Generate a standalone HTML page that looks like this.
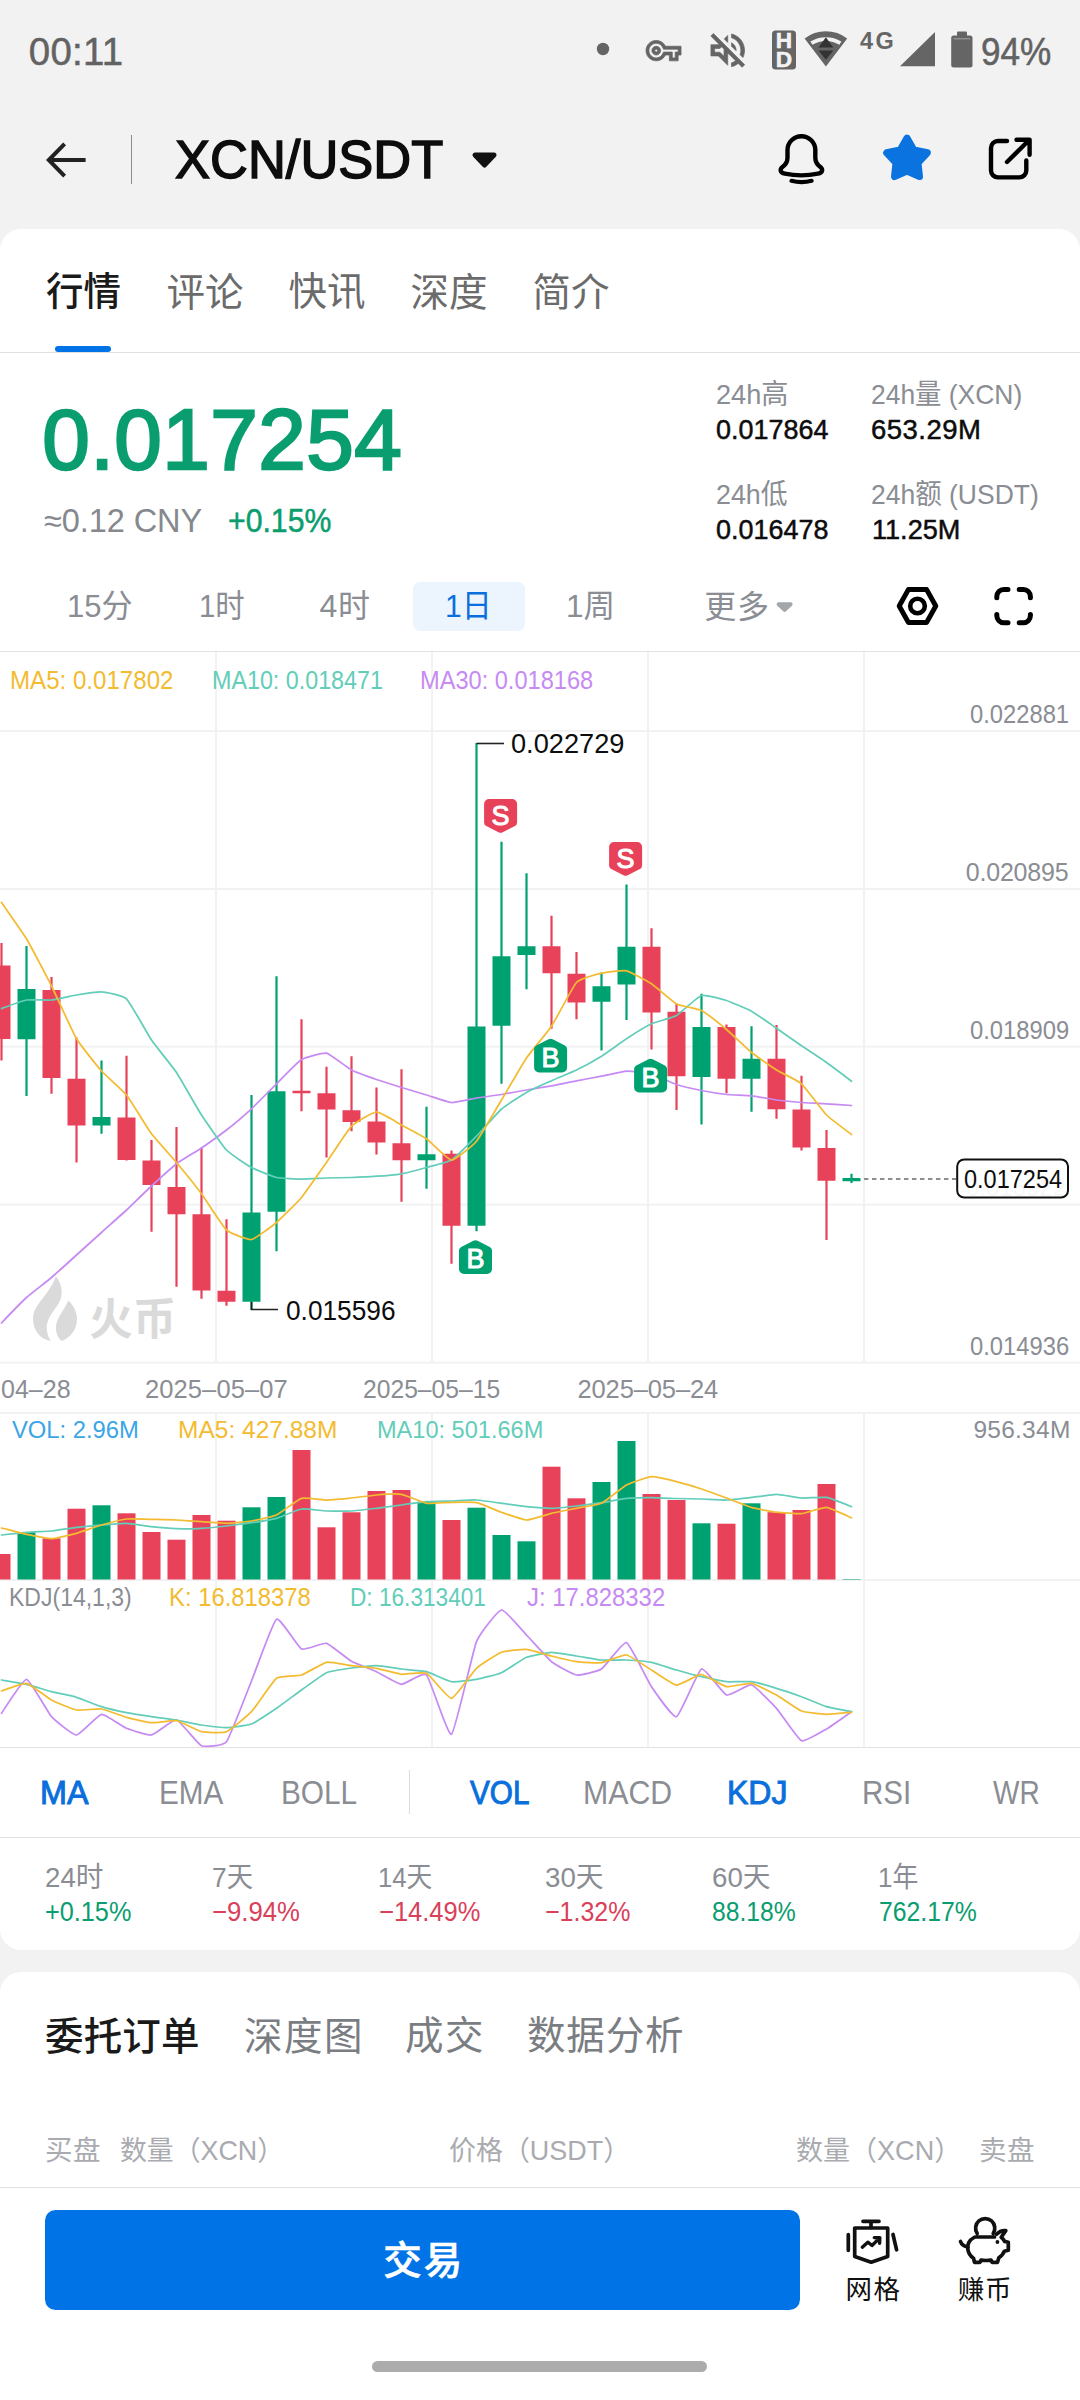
<!DOCTYPE html>
<html lang="zh-CN"><head><meta charset="utf-8"><meta name="viewport" content="width=1080">
<title>XCN/USDT</title>
<style>
*{margin:0;padding:0;box-sizing:border-box}
html,body{width:1080px;height:2400px;overflow:hidden}
body{position:relative;background:#f2f2f2;font-family:"Liberation Sans","Noto Sans CJK SC",sans-serif;}
.abs{position:absolute}
.g{display:block;position:static}
.t{position:absolute;white-space:nowrap;line-height:1;transform-origin:0 50%}
.card1{position:absolute;left:0;top:228.7px;width:1080px;height:1721px;background:#fff;border-radius:21px}
.card2{position:absolute;left:0;top:1971.7px;width:1080px;height:428px;background:#fff;border-radius:21px 21px 0 0}
.hr{position:absolute;left:0;width:1080px;height:1px;background:#e1e1e2}
.mk{font-family:"Liberation Sans",sans-serif;font-size:27px;fill:#fff;stroke:#fff;stroke-width:1px;text-anchor:middle}
</style></head>
<body>
<div class="card1"></div>
<div class="card2"></div>
<svg class="abs" style="left:0;top:0" width="1080" height="2400" viewBox="0 0 1080 2400" fill="none">
<circle cx="603" cy="49" r="6.2" fill="#656565"/>
<path transform="translate(646,33.1) scale(1.46)" fill="#656565" stroke="#656565" stroke-width="0.5" d="M22 19h-6v-4h-2.68c-1.14 2.42-3.6 4-6.32 4-3.86 0-7-3.14-7-7s3.14-7 7-7c2.72 0 5.17 1.58 6.32 4H24v6h-2v4zm-4-2h2v-4h2v-2H11.94l-.23-.67C11.01 8.34 9.11 7 7 7c-2.76 0-5 2.24-5 5s2.24 5 5 5c2.11 0 4.01-1.34 4.71-3.33l.23-.67H18v4zM7 15c-1.65 0-3-1.35-3-3s1.35-3 3-3 3 1.35 3 3-1.35 3-3 3zm0-4c-.55 0-1 .45-1 1s.45 1 1 1 1-.45 1-1-.45-1-1-1z"/>
<path transform="translate(705.3,27.9) scale(1.87)" fill="#656565" stroke="#656565" stroke-width="0.35" d="M4.34 2.93L2.93 4.34 7.29 8.7 7 9H3v6h4l5 5v-6.59l4.18 4.18c-.65.49-1.38.88-2.18 1.11v2.06c1.34-.3 2.57-.92 3.61-1.75l2.05 2.05 1.41-1.41L4.34 2.93zM10 15.17L7.83 13H5v-2h2.83l.88-.88L10 11.41v3.76zM19 12c0 .82-.15 1.61-.41 2.34l1.53 1.53c.56-1.17.88-2.48.88-3.87 0-4.28-2.99-7.86-7-8.77v2.06c2.89.86 5 3.54 5 6.71zm-7-8l-1.88 1.88L12 7.76zm4.5 8c0-1.77-1.02-3.29-2.5-4.03v1.79l2.48 2.48c.01-.08.02-.16.02-.24z"/>
<rect x="772" y="30.5" width="24" height="39" rx="3.5" fill="#656565"/>
<text x="784" y="48.4" font-size="22.6" stroke="#f2f2f2" stroke-width="0.6" font-weight="700" fill="#f2f2f2" text-anchor="middle" font-family="Liberation Sans, sans-serif">H</text>
<text x="784" y="66.5" font-size="22.6" stroke="#f2f2f2" stroke-width="0.6" font-weight="700" fill="#f2f2f2" text-anchor="middle" font-family="Liberation Sans, sans-serif">D</text>
<path d="M825.9,66.4L804.6,38.6A35,35 0 0 1 847.2,38.6Z" fill="#656565"/>
<path d="M811.4,43.2A27.3,27.3 0 0 1 840.4,43.2" stroke="#f2f2f2" stroke-width="3.8" fill="none"/>
<path d="M825.9,37.3l7.4,10.2h-14.8zM825.9,59.8l7.4,-9.4h-14.8z" fill="#333"/>
<path d="M900,66.3H935V32Z" fill="#656565"/>
<rect x="951.2" y="35.5" width="21.3" height="32" rx="2.5" fill="#656565"/><rect x="957" y="31.6" width="10" height="5" rx="1" fill="#656565"/>
<rect x="953.5" y="38.2" width="16.7" height="1.2" fill="#9a9a9a"/>
<path d="M85.6,160H49M64.6,143.8L48.8,160L64.6,176.2" stroke="#222" stroke-width="4" stroke-linecap="butt" stroke-linejoin="miter"/>
<path d="M475,155h19l-9.5,10z" fill="#111" stroke="#111" stroke-width="5" stroke-linejoin="round"/>
<path d="M787.5,157.5V150.1A13.9,13.9 0 0 1 815.3,150.1V157.5C815.3,161.5 816.9,164.3 819.8,166.6C823.6,169.4 822.6,172.8 818,173.7C808,175.7 794.8,175.7 784.8,173.7C780.2,172.8 779.2,169.4 783,166.6C785.9,164.3 787.5,161.5 787.5,157.5Z" stroke="#000" stroke-width="4.4" stroke-linejoin="round"/>
<path d="M791.5,180.8Q801.4,183.4 811.6,180.8" stroke="#000" stroke-width="4.2" stroke-linecap="round"/>
<polygon points="907.0,138.1 913.8,150.0 927.3,152.8 918.0,163.0 919.5,176.6 907.0,171.0 894.5,176.6 896.0,163.0 886.7,152.8 900.2,150.0" fill="#0a73e0" stroke="#0a73e0" stroke-width="7" stroke-linejoin="round"/>
<path d="M1007,141H998A7,7 0 0 0 991,148V170.4A7,7 0 0 0 998,177.4H1019.3A7,7 0 0 0 1026.3,170.4V160.5" stroke="#000" stroke-width="4.4" stroke-linecap="round"/>
<path d="M1007,162L1029.4,139.8M1016.5,139.8H1029.6V154.8" stroke="#000" stroke-width="4.4" stroke-linecap="round" stroke-linejoin="round"/>
<path d="M778.6,604.3h12l-6,5.6z" fill="#a3a6ab" stroke="#a3a6ab" stroke-width="4" stroke-linejoin="round"/>
<path d="M899.2,606L908.35,589.6H926.65L935.8,606L926.65,622.4H908.35Z" stroke="#000" stroke-width="5" stroke-linejoin="round"/>
<circle cx="917.5" cy="606" r="7.3" stroke="#000" stroke-width="4.6"/>
<path d="M996.8,597.7V596.5A7,7 0 0 1 1003.8,589.5H1008.0M1019.2,589.5H1023.4000000000001A7,7 0 0 1 1030.4,596.5V597.7M1030.4,614.5V615.7A7,7 0 0 1 1023.4000000000001,622.7H1019.2M1008.0,622.7H1003.8A7,7 0 0 1 996.8,615.7V614.5" stroke="#000" stroke-width="5" stroke-linecap="round"/>
<path d="M55.8,1276C63.5,1286 63.5,1297 57,1306C50,1315.5 45.5,1322 47,1331C47.8,1336 49.5,1339 51,1341C40,1339.5 33,1330 33,1318.5C33,1304 50,1295 55.8,1276Z" fill="#dadada"/>
<path d="M68.3,1300.5C74,1306 77.2,1312.5 77,1319.5C76.7,1330 70,1338 61.5,1341C57.5,1337.5 55.5,1332 56,1326.5C56.8,1317 64,1311 68.3,1300.5Z" fill="#dadada"/>
<g stroke="#111" stroke-width="3.7" stroke-linecap="round" stroke-linejoin="round">
<path d="M863,2221.3H879M871,2221.3V2227.5"/>
<path d="M854.7,2228H887.7V2256.6L871.2,2262.2L854.7,2256.6Z"/>
<path d="M848.3,2234.5V2250.3M893,2234.5L896.6,2249.8"/>
<path d="M862.3,2247.2L867.8,2242.2L872,2245.5L879,2238.6M874.3,2237.6L879.8,2237.8L879.6,2243.2" stroke-width="3.4"/>
</g>
<g stroke="#111" stroke-width="3.7" stroke-linecap="round" stroke-linejoin="round">
<path d="M977.2,2233.5A9.6,9.6 0 1 1 993.2,2233.5M975.5,2237H994.5"/>
<path d="M974,2237.5C969.5,2240 967.3,2244.5 967.8,2249C968.3,2253.5 971,2256.5 973.5,2258.2L974.5,2262.3H980L981,2260C984,2260.6 988,2260.6 991,2260L992,2262.3H997.5L998.8,2257.8C1001.5,2256 1003.5,2253.5 1004.3,2251.2L1008.3,2250.2V2242.2L1004.6,2241.4C1003.8,2239.8 1002.6,2238.3 1001.2,2237.2L1005.8,2230.6C1002,2230.2 999,2231.6 996.5,2234.2"/>
<path d="M968,2247C964.5,2246.5 961.5,2244.5 960.5,2241.5"/>
</g>
<circle cx="997.4" cy="2242" r="1.9" fill="#111"/>
</svg>
<div class="abs" style="left:55px;top:346px;width:56px;height:6px;border-radius:3px;background:#0073e6"></div>
<div class="hr" style="top:352px"></div>
<div class="abs" style="left:413px;top:582px;width:112px;height:49px;border-radius:7px;background:#ecf4fd"></div>
<svg class="abs" style="left:0;top:651px" width="1080" height="1097" viewBox="0 651 1080 1097">
<rect x="0" y="730" width="1080" height="2" fill="#f2f2f3"/>
<rect x="0" y="888" width="1080" height="2" fill="#f2f2f3"/>
<rect x="0" y="1045.6" width="1080" height="2" fill="#f2f2f3"/>
<rect x="0" y="1203.6" width="1080" height="2" fill="#f2f2f3"/>
<rect x="0" y="1361.6" width="1080" height="2" fill="#f2f2f3"/>
<rect x="0" y="1412" width="1080" height="2" fill="#f2f2f3"/>
<rect x="0" y="1579" width="1080" height="2" fill="#f2f2f3"/>
<rect x="215" y="651" width="2" height="711" fill="#f2f2f3"/>
<rect x="215" y="1413" width="2" height="334" fill="#f2f2f3"/>
<rect x="431" y="651" width="2" height="711" fill="#f2f2f3"/>
<rect x="431" y="1413" width="2" height="334" fill="#f2f2f3"/>
<rect x="647" y="651" width="2" height="711" fill="#f2f2f3"/>
<rect x="647" y="1413" width="2" height="334" fill="#f2f2f3"/>
<rect x="863" y="651" width="2" height="711" fill="#f2f2f3"/>
<rect x="863" y="1413" width="2" height="334" fill="#f2f2f3"/>
<rect x="0" y="651" width="1080" height="1" fill="#e2e2e3"/>
<rect x="0" y="1747" width="1080" height="1" fill="#e2e2e3"/>
<rect x="0.4" y="943" width="2.2" height="117.50" fill="#e8425a"/>
<rect x="-7.5" y="965.5" width="18" height="73.50" fill="#e8425a"/>
<rect x="25.4" y="946" width="2.2" height="150.00" fill="#00a171"/>
<rect x="17.5" y="989" width="18" height="50.25" fill="#00a171"/>
<rect x="50.4" y="977" width="2.2" height="116.75" fill="#e8425a"/>
<rect x="42.5" y="990" width="18" height="88.00" fill="#e8425a"/>
<rect x="75.4" y="1037.5" width="2.2" height="125.00" fill="#e8425a"/>
<rect x="67.5" y="1078.75" width="18" height="46.75" fill="#e8425a"/>
<rect x="100.4" y="1060.5" width="2.2" height="73.25" fill="#00a171"/>
<rect x="92.5" y="1117" width="18" height="8.50" fill="#00a171"/>
<rect x="125.4" y="1055.75" width="2.2" height="104.75" fill="#e8425a"/>
<rect x="117.5" y="1117.5" width="18" height="42.50" fill="#e8425a"/>
<rect x="150.4" y="1140" width="2.2" height="91.75" fill="#e8425a"/>
<rect x="142.5" y="1160.5" width="18" height="24.50" fill="#e8425a"/>
<rect x="175.4" y="1127" width="2.2" height="159.75" fill="#e8425a"/>
<rect x="167.5" y="1187" width="18" height="27.25" fill="#e8425a"/>
<rect x="200.4" y="1147.5" width="2.2" height="151.25" fill="#e8425a"/>
<rect x="192.5" y="1214.25" width="18" height="76.25" fill="#e8425a"/>
<rect x="225.4" y="1219.25" width="2.2" height="86.50" fill="#e8425a"/>
<rect x="217.5" y="1290.75" width="18" height="11.00" fill="#e8425a"/>
<rect x="250.4" y="1095" width="2.2" height="215.00" fill="#00a171"/>
<rect x="242.5" y="1212.5" width="18" height="89.25" fill="#00a171"/>
<rect x="275.4" y="976.25" width="2.2" height="275.00" fill="#00a171"/>
<rect x="267.5" y="1091.25" width="18" height="120.50" fill="#00a171"/>
<rect x="300.4" y="1019.25" width="2.2" height="92.00" fill="#e8425a"/>
<rect x="292.5" y="1090.75" width="18" height="2.50" fill="#e8425a"/>
<rect x="325.4" y="1066.75" width="2.2" height="90.75" fill="#e8425a"/>
<rect x="317.5" y="1093.25" width="18" height="16.25" fill="#e8425a"/>
<rect x="350.4" y="1056.25" width="2.2" height="75.00" fill="#e8425a"/>
<rect x="342.5" y="1110.25" width="18" height="11.75" fill="#e8425a"/>
<rect x="375.4" y="1087.5" width="2.2" height="67.00" fill="#e8425a"/>
<rect x="367.5" y="1121.5" width="18" height="21.00" fill="#e8425a"/>
<rect x="400.4" y="1069.25" width="2.2" height="132.50" fill="#e8425a"/>
<rect x="392.5" y="1143.25" width="18" height="17.00" fill="#e8425a"/>
<rect x="425.4" y="1106.75" width="2.2" height="82.00" fill="#00a171"/>
<rect x="417.5" y="1154.25" width="18" height="6.00" fill="#00a171"/>
<rect x="450.4" y="1150.5" width="2.2" height="113.25" fill="#e8425a"/>
<rect x="442.5" y="1153.75" width="18" height="72.00" fill="#e8425a"/>
<rect x="475.4" y="743" width="2.2" height="488.25" fill="#00a171"/>
<rect x="467.5" y="1026.5" width="18" height="199.25" fill="#00a171"/>
<rect x="500.4" y="841.75" width="2.2" height="242.00" fill="#00a171"/>
<rect x="492.5" y="956.25" width="18" height="69.50" fill="#00a171"/>
<rect x="525.4" y="873.25" width="2.2" height="116.00" fill="#00a171"/>
<rect x="517.5" y="946.25" width="18" height="8.75" fill="#00a171"/>
<rect x="550.4" y="915.75" width="2.2" height="113.00" fill="#e8425a"/>
<rect x="542.5" y="946.25" width="18" height="27.00" fill="#e8425a"/>
<rect x="575.4" y="952" width="2.2" height="67.25" fill="#e8425a"/>
<rect x="567.5" y="973.75" width="18" height="28.75" fill="#e8425a"/>
<rect x="600.4" y="972.5" width="2.2" height="78.00" fill="#00a171"/>
<rect x="592.5" y="986.25" width="18" height="15.50" fill="#00a171"/>
<rect x="625.4" y="884.5" width="2.2" height="135.50" fill="#00a171"/>
<rect x="617.5" y="946.75" width="18" height="37.75" fill="#00a171"/>
<rect x="650.4" y="928.25" width="2.2" height="121.25" fill="#e8425a"/>
<rect x="642.5" y="946.75" width="18" height="65.75" fill="#e8425a"/>
<rect x="675.4" y="1003.75" width="2.2" height="106.25" fill="#e8425a"/>
<rect x="667.5" y="1011.75" width="18" height="64.50" fill="#e8425a"/>
<rect x="700.4" y="993.75" width="2.2" height="130.75" fill="#00a171"/>
<rect x="692.5" y="1027" width="18" height="50.00" fill="#00a171"/>
<rect x="725.4" y="1024.5" width="2.2" height="68.75" fill="#e8425a"/>
<rect x="717.5" y="1027" width="18" height="51.75" fill="#e8425a"/>
<rect x="750.4" y="1026.25" width="2.2" height="85.50" fill="#00a171"/>
<rect x="742.5" y="1058.75" width="18" height="20.00" fill="#00a171"/>
<rect x="775.4" y="1025" width="2.2" height="93.75" fill="#e8425a"/>
<rect x="767.5" y="1058.75" width="18" height="50.50" fill="#e8425a"/>
<rect x="800.4" y="1075.75" width="2.2" height="74.75" fill="#e8425a"/>
<rect x="792.5" y="1109.5" width="18" height="38.00" fill="#e8425a"/>
<rect x="825.4" y="1130" width="2.2" height="110.00" fill="#e8425a"/>
<rect x="817.5" y="1148" width="18" height="32.75" fill="#e8425a"/>
<rect x="850.4" y="1173.75" width="2.2" height="9.25" fill="#00a171"/>
<rect x="842.5" y="1178" width="18" height="3.25" fill="#00a171"/>
<rect x="-7.5" y="1554" width="18" height="25.50" fill="#e8425a"/>
<rect x="17.5" y="1532.3" width="18" height="47.20" fill="#00a171"/>
<rect x="42.5" y="1538.3" width="18" height="41.20" fill="#e8425a"/>
<rect x="67.5" y="1508.7" width="18" height="70.80" fill="#e8425a"/>
<rect x="92.5" y="1505.3" width="18" height="74.20" fill="#00a171"/>
<rect x="117.5" y="1513.3" width="18" height="66.20" fill="#e8425a"/>
<rect x="142.5" y="1532" width="18" height="47.50" fill="#e8425a"/>
<rect x="167.5" y="1539.7" width="18" height="39.80" fill="#e8425a"/>
<rect x="192.5" y="1515" width="18" height="64.50" fill="#e8425a"/>
<rect x="217.5" y="1520.7" width="18" height="58.80" fill="#e8425a"/>
<rect x="242.5" y="1507.3" width="18" height="72.20" fill="#00a171"/>
<rect x="267.5" y="1497" width="18" height="82.50" fill="#00a171"/>
<rect x="292.5" y="1450" width="18" height="129.50" fill="#e8425a"/>
<rect x="317.5" y="1527.3" width="18" height="52.20" fill="#e8425a"/>
<rect x="342.5" y="1512.3" width="18" height="67.20" fill="#e8425a"/>
<rect x="367.5" y="1491" width="18" height="88.50" fill="#e8425a"/>
<rect x="392.5" y="1490" width="18" height="89.50" fill="#e8425a"/>
<rect x="417.5" y="1501.7" width="18" height="77.80" fill="#00a171"/>
<rect x="442.5" y="1520" width="18" height="59.50" fill="#e8425a"/>
<rect x="467.5" y="1507.7" width="18" height="71.80" fill="#00a171"/>
<rect x="492.5" y="1535" width="18" height="44.50" fill="#00a171"/>
<rect x="517.5" y="1541.3" width="18" height="38.20" fill="#00a171"/>
<rect x="542.5" y="1466.7" width="18" height="112.80" fill="#e8425a"/>
<rect x="567.5" y="1498.3" width="18" height="81.20" fill="#e8425a"/>
<rect x="592.5" y="1482" width="18" height="97.50" fill="#00a171"/>
<rect x="617.5" y="1441" width="18" height="138.50" fill="#00a171"/>
<rect x="642.5" y="1494" width="18" height="85.50" fill="#e8425a"/>
<rect x="667.5" y="1500" width="18" height="79.50" fill="#e8425a"/>
<rect x="692.5" y="1523.3" width="18" height="56.20" fill="#00a171"/>
<rect x="717.5" y="1523.7" width="18" height="55.80" fill="#e8425a"/>
<rect x="742.5" y="1503.3" width="18" height="76.20" fill="#00a171"/>
<rect x="767.5" y="1512.2" width="18" height="67.30" fill="#e8425a"/>
<rect x="792.5" y="1510" width="18" height="69.50" fill="#e8425a"/>
<rect x="817.5" y="1484" width="18" height="95.50" fill="#e8425a"/>
<rect x="842.5" y="1579" width="18" height="0.50" fill="#00a171"/>
<path d="M1.5,1323.0C3.2,1321.2 23.0,1300.7 26.5,1297.5C30.0,1294.3 48.0,1280.5 51.5,1277.5C55.0,1274.5 73.0,1258.2 76.5,1255.0C80.0,1251.8 98.0,1235.7 101.5,1232.5C105.0,1229.3 123.0,1213.3 126.5,1210.0C130.0,1206.7 148.0,1189.2 151.5,1186.0C155.0,1182.8 173.0,1166.4 176.5,1163.8C180.0,1161.1 198.0,1150.4 201.5,1148.0C205.0,1145.6 223.0,1132.7 226.5,1130.0C230.0,1127.3 248.0,1112.0 251.5,1108.8C255.0,1105.5 273.0,1087.2 276.5,1083.8C280.0,1080.3 298.0,1061.6 301.5,1059.5C305.0,1057.4 323.0,1052.5 326.5,1053.2C330.0,1054.0 348.0,1068.2 351.5,1070.0C355.0,1071.8 373.0,1078.3 376.5,1079.5C380.0,1080.7 398.0,1086.4 401.5,1087.5C405.0,1088.6 423.0,1094.0 426.5,1095.0C430.0,1096.0 448.0,1102.3 451.5,1102.5C455.0,1102.7 473.0,1098.6 476.5,1098.0C480.0,1097.4 498.0,1095.1 501.5,1094.5C505.0,1093.9 523.0,1090.6 526.5,1090.0C530.0,1089.4 548.0,1086.4 551.5,1085.8C555.0,1085.1 573.0,1081.4 576.5,1080.8C580.0,1080.1 598.0,1076.9 601.5,1076.2C605.0,1075.6 623.0,1071.4 626.5,1071.2C630.0,1071.1 648.0,1073.1 651.5,1074.0C655.0,1074.9 673.0,1083.3 676.5,1084.5C680.0,1085.7 698.0,1089.8 701.5,1090.5C705.0,1091.2 723.0,1094.1 726.5,1094.5C730.0,1094.9 748.0,1095.4 751.5,1095.8C755.0,1096.1 773.0,1099.5 776.5,1100.0C780.0,1100.5 798.0,1102.2 801.5,1102.5C805.0,1102.8 823.0,1103.5 826.5,1103.8C830.0,1104.0 849.8,1105.4 851.5,1105.5" fill="none" stroke="#c68af2" stroke-width="1.75" stroke-linejoin="round" stroke-linecap="round"/>
<path d="M1.5,1008.5C3.2,1007.9 23.0,1000.6 26.5,1000.0C30.0,999.4 48.0,1000.4 51.5,1000.0C55.0,999.6 73.0,995.6 76.5,995.0C80.0,994.4 98.0,991.5 101.5,991.8C105.0,992.0 123.0,995.4 126.5,998.8C130.0,1002.1 148.0,1034.8 151.5,1040.0C155.0,1045.2 173.0,1067.2 176.5,1072.5C180.0,1077.8 198.0,1109.6 201.5,1115.0C205.0,1120.4 223.0,1146.3 226.5,1150.0C230.0,1153.7 248.0,1165.6 251.5,1167.5C255.0,1169.4 273.0,1176.7 276.5,1177.5C280.0,1178.3 298.0,1179.2 301.5,1179.2C305.0,1179.3 323.0,1178.1 326.5,1178.0C330.0,1177.9 348.0,1177.6 351.5,1177.5C355.0,1177.4 373.0,1176.5 376.5,1176.2C380.0,1176.0 398.0,1174.4 401.5,1173.8C405.0,1173.1 423.0,1168.5 426.5,1167.5C430.0,1166.5 448.0,1162.2 451.5,1160.0C455.0,1157.8 473.0,1139.8 476.5,1136.2C480.0,1132.7 498.0,1112.1 501.5,1109.0C505.0,1105.9 523.0,1094.5 526.5,1092.5C530.0,1090.5 548.0,1082.3 551.5,1080.8C555.0,1079.2 573.0,1071.7 576.5,1070.0C580.0,1068.3 598.0,1058.4 601.5,1056.2C605.0,1054.1 623.0,1041.0 626.5,1038.8C630.0,1036.5 648.0,1025.4 651.5,1023.8C655.0,1022.1 673.0,1017.5 676.5,1015.5C680.0,1013.5 698.0,996.5 701.5,995.5C705.0,994.5 723.0,999.4 726.5,1000.5C730.0,1001.6 748.0,1009.3 751.5,1011.2C755.0,1013.2 773.0,1025.8 776.5,1028.2C780.0,1030.7 798.0,1043.4 801.5,1045.8C805.0,1048.1 823.0,1060.0 826.5,1062.5C830.0,1065.0 849.8,1079.9 851.5,1081.2" fill="none" stroke="#62cdb9" stroke-width="1.75" stroke-linejoin="round" stroke-linecap="round"/>
<path d="M1.5,902.5C3.2,905.0 23.0,932.9 26.5,938.8C30.0,944.6 48.0,979.0 51.5,986.0C55.0,993.0 73.0,1032.8 76.5,1038.8C80.0,1044.7 98.0,1067.1 101.5,1071.0C105.0,1074.9 123.0,1090.6 126.5,1095.0C130.0,1099.4 148.0,1129.0 151.5,1133.8C155.0,1138.5 173.0,1158.3 176.5,1162.5C180.0,1166.7 198.0,1189.0 201.5,1193.8C205.0,1198.5 223.0,1226.8 226.5,1230.0C230.0,1233.2 248.0,1240.0 251.5,1239.5C255.0,1239.0 273.0,1225.4 276.5,1222.5C280.0,1219.6 298.0,1201.7 301.5,1197.5C305.0,1193.3 323.0,1167.5 326.5,1162.5C330.0,1157.5 348.0,1129.8 351.5,1126.2C355.0,1122.7 373.0,1112.1 376.5,1112.0C380.0,1111.9 398.0,1123.1 401.5,1125.0C405.0,1126.9 423.0,1136.3 426.5,1138.8C430.0,1141.2 448.0,1159.8 451.5,1160.0C455.0,1160.2 473.0,1145.5 476.5,1141.2C480.0,1137.0 498.0,1105.8 501.5,1100.0C505.0,1094.2 523.0,1063.2 526.5,1058.0C530.0,1052.8 548.0,1031.5 551.5,1026.2C555.0,1021.0 573.0,986.2 576.5,982.5C580.0,978.8 598.0,974.1 601.5,973.2C605.0,972.4 623.0,970.0 626.5,970.8C630.0,971.5 648.0,981.4 651.5,983.8C655.0,986.1 673.0,1002.1 676.5,1004.0C680.0,1005.9 698.0,1008.7 701.5,1010.5C705.0,1012.3 723.0,1026.6 726.5,1029.5C730.0,1032.4 748.0,1049.7 751.5,1052.5C755.0,1055.3 773.0,1067.8 776.5,1070.0C780.0,1072.2 798.0,1080.6 801.5,1083.8C805.0,1086.9 823.0,1111.4 826.5,1115.0C830.0,1118.6 849.8,1133.1 851.5,1134.5" fill="none" stroke="#f3bb30" stroke-width="1.75" stroke-linejoin="round" stroke-linecap="round"/>
<path d="M1.5,1535.0C3.2,1534.8 23.0,1532.6 26.5,1532.3C30.0,1532.0 48.0,1531.3 51.5,1531.0C55.0,1530.7 73.0,1527.7 76.5,1527.3C80.0,1526.9 98.0,1525.3 101.5,1525.0C105.0,1524.7 123.0,1523.2 126.5,1523.3C130.0,1523.4 148.0,1526.3 151.5,1526.7C155.0,1527.1 173.0,1528.6 176.5,1528.7C180.0,1528.8 198.0,1528.5 201.5,1528.3C205.0,1528.1 223.0,1526.4 226.5,1526.0C230.0,1525.6 248.0,1523.2 251.5,1522.7C255.0,1522.2 273.0,1519.3 276.5,1518.3C280.0,1517.3 298.0,1509.5 301.5,1509.0C305.0,1508.5 323.0,1510.9 326.5,1511.0C330.0,1511.1 348.0,1511.2 351.5,1511.0C355.0,1510.8 373.0,1508.7 376.5,1508.3C380.0,1507.9 398.0,1505.5 401.5,1505.0C405.0,1504.5 423.0,1502.0 426.5,1501.7C430.0,1501.4 448.0,1501.1 451.5,1501.0C455.0,1500.9 473.0,1499.8 476.5,1500.0C480.0,1500.2 498.0,1502.8 501.5,1503.3C505.0,1503.8 523.0,1506.4 526.5,1506.7C530.0,1507.0 548.0,1508.3 551.5,1508.3C555.0,1508.3 573.0,1506.4 576.5,1506.0C580.0,1505.6 598.0,1503.2 601.5,1502.7C605.0,1502.2 623.0,1498.6 626.5,1498.3C630.0,1498.0 648.0,1497.7 651.5,1497.7C655.0,1497.7 673.0,1498.4 676.5,1498.5C680.0,1498.6 698.0,1498.9 701.5,1499.0C705.0,1499.1 723.0,1500.1 726.5,1500.0C730.0,1499.9 748.0,1497.8 751.5,1497.4C755.0,1497.0 773.0,1494.4 776.5,1494.4C780.0,1494.4 798.0,1497.8 801.5,1498.0C805.0,1498.2 823.0,1496.8 826.5,1497.4C830.0,1498.0 849.8,1506.0 851.5,1506.7" fill="none" stroke="#62cdb9" stroke-width="1.75" stroke-linejoin="round" stroke-linecap="round"/>
<path d="M1.5,1528.0C3.2,1528.4 23.0,1533.6 26.5,1534.3C30.0,1535.0 48.0,1538.8 51.5,1538.7C55.0,1538.6 73.0,1534.3 76.5,1533.3C80.0,1532.3 98.0,1526.0 101.5,1525.0C105.0,1524.0 123.0,1519.4 126.5,1519.0C130.0,1518.6 148.0,1519.2 151.5,1519.3C155.0,1519.4 173.0,1519.8 176.5,1520.0C180.0,1520.2 198.0,1521.5 201.5,1521.7C205.0,1521.9 223.0,1523.3 226.5,1523.3C230.0,1523.3 248.0,1521.6 251.5,1521.0C255.0,1520.4 273.0,1516.6 276.5,1515.0C280.0,1513.4 298.0,1499.3 301.5,1498.3C305.0,1497.2 323.0,1500.0 326.5,1500.0C330.0,1500.0 348.0,1498.3 351.5,1498.0C355.0,1497.7 373.0,1495.3 376.5,1495.0C380.0,1494.7 398.0,1493.7 401.5,1494.3C405.0,1494.9 423.0,1502.7 426.5,1503.3C430.0,1503.9 448.0,1502.3 451.5,1502.3C455.0,1502.3 473.0,1502.0 476.5,1502.7C480.0,1503.4 498.0,1511.1 501.5,1512.3C505.0,1513.5 523.0,1519.9 526.5,1520.0C530.0,1520.1 548.0,1514.1 551.5,1513.3C555.0,1512.5 573.0,1509.0 576.5,1508.3C580.0,1507.6 598.0,1504.9 601.5,1503.3C605.0,1501.7 623.0,1486.9 626.5,1485.0C630.0,1483.1 648.0,1476.9 651.5,1476.7C655.0,1476.5 673.0,1480.8 676.5,1481.7C680.0,1482.6 698.0,1487.9 701.5,1489.0C705.0,1490.1 723.0,1496.7 726.5,1498.0C730.0,1499.3 748.0,1506.4 751.5,1507.4C755.0,1508.4 773.0,1511.8 776.5,1512.2C780.0,1512.6 798.0,1514.0 801.5,1513.7C805.0,1513.4 823.0,1507.1 826.5,1507.4C830.0,1507.7 849.8,1517.1 851.5,1517.8" fill="none" stroke="#f3bb30" stroke-width="1.75" stroke-linejoin="round" stroke-linecap="round"/>
<path d="M1.5,1713.3C3.2,1710.9 23.0,1679.1 26.5,1679.3C30.0,1679.5 48.0,1712.8 51.5,1716.7C55.0,1720.6 73.0,1735.2 76.5,1735.0C80.0,1734.8 98.0,1714.8 101.5,1714.3C105.0,1713.8 123.0,1726.9 126.5,1728.3C130.0,1729.7 148.0,1735.6 151.5,1735.0C155.0,1734.4 173.0,1719.3 176.5,1720.0C180.0,1720.7 198.0,1744.2 201.5,1745.7C205.0,1747.2 223.0,1746.2 226.5,1741.7C230.0,1737.2 248.0,1689.6 251.5,1681.0C255.0,1672.4 273.0,1621.5 276.5,1619.3C280.0,1617.1 298.0,1647.3 301.5,1649.0C305.0,1650.7 323.0,1642.4 326.5,1643.3C330.0,1644.2 348.0,1659.3 351.5,1661.3C355.0,1663.3 373.0,1670.1 376.5,1671.7C380.0,1673.3 398.0,1684.1 401.5,1684.3C405.0,1684.5 423.0,1671.5 426.5,1675.0C430.0,1678.5 448.0,1736.6 451.5,1734.3C455.0,1732.0 473.0,1650.4 476.5,1641.7C480.0,1633.0 498.0,1610.5 501.5,1610.0C505.0,1609.5 523.0,1631.4 526.5,1635.0C530.0,1638.6 548.0,1658.9 551.5,1661.7C555.0,1664.5 573.0,1674.5 576.5,1675.0C580.0,1675.5 598.0,1671.3 601.5,1669.0C605.0,1666.7 623.0,1641.5 626.5,1642.7C630.0,1643.9 648.0,1681.5 651.5,1686.7C655.0,1691.9 673.0,1717.9 676.5,1716.7C680.0,1715.5 698.0,1670.5 701.5,1669.0C705.0,1667.5 723.0,1693.9 726.5,1695.0C730.0,1696.1 748.0,1684.1 751.5,1685.0C755.0,1685.9 773.0,1704.4 776.5,1708.3C780.0,1712.2 798.0,1739.3 801.5,1740.7C805.0,1742.1 823.0,1731.0 826.5,1729.0C830.0,1727.0 849.8,1712.9 851.5,1711.7" fill="none" stroke="#c68af2" stroke-width="1.75" stroke-linejoin="round" stroke-linecap="round"/>
<path d="M1.5,1680.0C3.2,1680.3 23.0,1683.5 26.5,1684.3C30.0,1685.1 48.0,1690.8 51.5,1691.7C55.0,1692.6 73.0,1696.2 76.5,1697.3C80.0,1698.3 98.0,1705.6 101.5,1706.7C105.0,1707.8 123.0,1712.0 126.5,1712.7C130.0,1713.4 148.0,1716.2 151.5,1716.7C155.0,1717.2 173.0,1719.4 176.5,1720.0C180.0,1720.6 198.0,1724.5 201.5,1725.0C205.0,1725.5 223.0,1727.8 226.5,1727.7C230.0,1727.6 248.0,1725.4 251.5,1724.0C255.0,1722.6 273.0,1710.7 276.5,1708.3C280.0,1705.9 298.0,1692.5 301.5,1690.0C305.0,1687.5 323.0,1674.2 326.5,1672.7C330.0,1671.2 348.0,1668.5 351.5,1668.0C355.0,1667.5 373.0,1665.6 376.5,1665.7C380.0,1665.8 398.0,1668.6 401.5,1669.0C405.0,1669.4 423.0,1670.8 426.5,1671.7C430.0,1672.6 448.0,1681.2 451.5,1681.7C455.0,1682.2 473.0,1679.9 476.5,1679.3C480.0,1678.7 498.0,1674.2 501.5,1672.7C505.0,1671.2 523.0,1658.7 526.5,1657.3C530.0,1655.9 548.0,1652.4 551.5,1652.3C555.0,1652.2 573.0,1655.5 576.5,1656.0C580.0,1656.5 598.0,1659.7 601.5,1660.0C605.0,1660.3 623.0,1659.8 626.5,1660.0C630.0,1660.2 648.0,1661.6 651.5,1662.3C655.0,1663.0 673.0,1669.0 676.5,1670.0C680.0,1671.0 698.0,1675.9 701.5,1676.7C705.0,1677.5 723.0,1681.4 726.5,1681.7C730.0,1682.0 748.0,1681.2 751.5,1681.7C755.0,1682.2 773.0,1687.2 776.5,1688.3C780.0,1689.3 798.0,1695.4 801.5,1696.7C805.0,1698.0 823.0,1705.7 826.5,1706.7C830.0,1707.8 849.8,1711.4 851.5,1711.7" fill="none" stroke="#62cdb9" stroke-width="1.75" stroke-linejoin="round" stroke-linecap="round"/>
<path d="M1.5,1691.0C3.2,1690.5 23.0,1682.7 26.5,1683.3C30.0,1683.9 48.0,1698.1 51.5,1700.0C55.0,1701.9 73.0,1709.4 76.5,1710.0C80.0,1710.6 98.0,1708.5 101.5,1709.0C105.0,1709.5 123.0,1716.3 126.5,1717.3C130.0,1718.3 148.0,1722.5 151.5,1722.7C155.0,1722.9 173.0,1720.1 176.5,1720.7C180.0,1721.3 198.0,1730.9 201.5,1731.7C205.0,1732.5 223.0,1733.1 226.5,1731.7C230.0,1730.3 248.0,1715.4 251.5,1711.7C255.0,1708.0 273.0,1680.9 276.5,1678.3C280.0,1675.7 298.0,1676.1 301.5,1675.0C305.0,1673.9 323.0,1663.0 326.5,1662.3C330.0,1661.6 348.0,1665.3 351.5,1665.7C355.0,1666.1 373.0,1667.7 376.5,1668.3C380.0,1668.9 398.0,1674.0 401.5,1674.3C405.0,1674.6 423.0,1671.6 426.5,1673.3C430.0,1675.0 448.0,1698.6 451.5,1698.3C455.0,1698.0 473.0,1671.5 476.5,1668.3C480.0,1665.1 498.0,1653.6 501.5,1652.3C505.0,1651.0 523.0,1649.0 526.5,1649.3C530.0,1649.6 548.0,1655.1 551.5,1656.0C555.0,1656.9 573.0,1661.2 576.5,1661.7C580.0,1662.2 598.0,1663.2 601.5,1662.7C605.0,1662.2 623.0,1654.5 626.5,1655.0C630.0,1655.5 648.0,1667.9 651.5,1670.0C655.0,1672.1 673.0,1684.7 676.5,1685.0C680.0,1685.3 698.0,1674.4 701.5,1674.5C705.0,1674.6 723.0,1686.1 726.5,1686.7C730.0,1687.3 748.0,1682.7 751.5,1683.3C755.0,1683.9 773.0,1693.1 776.5,1695.0C780.0,1696.9 798.0,1709.6 801.5,1711.0C805.0,1712.4 823.0,1714.2 826.5,1714.3C830.0,1714.4 849.8,1712.4 851.5,1712.3" fill="none" stroke="#f3bb30" stroke-width="1.75" stroke-linejoin="round" stroke-linecap="round"/>
<path d="M476.5,743.5H504" stroke="#222" stroke-width="1.6" fill="none"/>
<path d="M251.5,1302V1309.5H278" stroke="#222" stroke-width="1.6" fill="none"/>
<path d="M864,1179H957" stroke="#8e8e8e" stroke-width="2" stroke-dasharray="4.4 3.6" fill="none"/>
<path d="M489.1,799h23a5,5 0 0 1 5,5v18.5a4,4 0 0 1 -2.2,3.5l-12.2,6.3a4.5,4.5 0 0 1 -4.2,0l-12.2,-6.3a4,4 0 0 1 -2.2,-3.5v-18.5a5,5 0 0 1 5,-5z" fill="#e8425a"/><text x="500.6" y="824.8" class="mk">S</text>
<path d="M614.1,842h23a5,5 0 0 1 5,5v18.5a4,4 0 0 1 -2.2,3.5l-12.2,6.3a4.5,4.5 0 0 1 -4.2,0l-12.2,-6.3a4,4 0 0 1 -2.2,-3.5v-18.5a5,5 0 0 1 5,-5z" fill="#e8425a"/><text x="625.6" y="867.8" class="mk">S</text>
<path d="M464.0,1274h23a5,5 0 0 0 5,-5v-18.5a4,4 0 0 0 -2.2,-3.5l-12.2,-6.3a4.5,4.5 0 0 0 -4.2,0l-12.2,6.3a4,4 0 0 0 -2.2,3.5v18.5a5,5 0 0 0 5,5z" fill="#00a171"/><text x="475.5" y="1268.1" class="mk">B</text>
<path d="M539.1,1072.5h23a5,5 0 0 0 5,-5v-18.5a4,4 0 0 0 -2.2,-3.5l-12.2,-6.3a4.5,4.5 0 0 0 -4.2,0l-12.2,6.3a4,4 0 0 0 -2.2,3.5v18.5a5,5 0 0 0 5,5z" fill="#00a171"/><text x="550.6" y="1066.6" class="mk">B</text>
<path d="M639.1,1092.5h23a5,5 0 0 0 5,-5v-18.5a4,4 0 0 0 -2.2,-3.5l-12.2,-6.3a4.5,4.5 0 0 0 -4.2,0l-12.2,6.3a4,4 0 0 0 -2.2,3.5v18.5a5,5 0 0 0 5,5z" fill="#00a171"/><text x="650.6" y="1086.6" class="mk">B</text>
<text x="1066" y="1196.3" font-size="24" text-anchor="end" fill="#8a8d93" font-family="Liberation Sans, sans-serif">0.016922</text>
<rect x="957.2" y="1159.4" width="110.8" height="38.2" rx="7" fill="#fff" fill-opacity="0.93" stroke="#111" stroke-width="2"/>
</svg>
<div class="abs" style="left:409px;top:1770px;width:1px;height:44px;background:#dcdcde"></div>
<div class="hr" style="top:1837px"></div>
<div class="hr" style="top:2187px"></div>
<div class="abs" style="left:45px;top:2210px;width:755px;height:100px;border-radius:10.5px;background:#0073e6"></div>
<div class="abs" style="left:372px;top:2361px;width:335px;height:11px;border-radius:5.5px;background:#acacac"></div>
<div class="abs" style="left:131px;top:135px;width:1px;height:49px;background:#8c8c8c"></div>
<div class="g" aria-label="status bar">
<span class="t" style="left:28.75px;top:32.79px;font-size:38.4px;color:#626262;letter-spacing:0.283px;-webkit-text-stroke:0.5px #626262;">00:11</span>
<span class="t" style="left:980.51px;top:32.79px;font-size:38.4px;color:#626262;transform:scaleX(0.9149);-webkit-text-stroke:0.5px #626262;">94%</span>
<span class="t" style="left:860.00px;top:30.10px;font-size:23.5px;color:#666;font-weight:700;letter-spacing:2.430px;">4G</span>
</div>
<header class="g" aria-label="pair title">
<span class="t" style="left:174.76px;top:132.85px;font-size:53.8px;color:#0d0d0d;transform:scaleX(0.9759);-webkit-text-stroke:1.5px #0d0d0d;">XCN/USDT</span>
</header>
<nav class="g" aria-label="market tabs">
<span class="t" style="left:46.00px;top:273.40px;font-size:38.5px;color:#1a1a1a;font-weight:500;transform:scaleX(0.9739);">行情</span>
<span class="t" style="left:166.50px;top:274.40px;font-size:38.5px;color:#6b6b6b;">评论</span>
<span class="t" style="left:288.50px;top:273.40px;font-size:38.5px;color:#6b6b6b;">快讯</span>
<span class="t" style="left:410.50px;top:274.40px;font-size:38.5px;color:#6b6b6b;">深度</span>
<span class="t" style="left:532.50px;top:274.40px;font-size:38.5px;color:#6b6b6b;">简介</span>
</nav>
<section class="g" aria-label="price summary">
<span class="t" style="left:42.20px;top:397.21px;font-size:85.5px;color:#0a9d6f;letter-spacing:0.434px;-webkit-text-stroke:2.4px #0a9d6f;">0.017254</span>
<span class="t" style="left:44.00px;top:504.78px;font-size:32.5px;color:#85888d;letter-spacing:-0.070px;">≈0.12 CNY</span>
<span class="t" style="left:228.30px;top:504.78px;font-size:32.5px;color:#0a9d6f;transform:scaleX(0.9295);-webkit-text-stroke:0.5px #0a9d6f;">+0.15%</span>
<span class="t" style="left:715.73px;top:381.29px;font-size:28px;color:#8a8d93;transform:scaleX(0.9709);">24h高</span>
<span class="t" style="left:715.97px;top:415.92px;font-size:27.5px;color:#0d0d0d;transform:scaleX(0.9798);-webkit-text-stroke:0.5px #0d0d0d;">0.017864</span>
<span class="t" style="left:870.76px;top:381.29px;font-size:28px;color:#8a8d93;transform:scaleX(0.9434);">24h量 (XCN)</span>
<span class="t" style="left:870.95px;top:415.92px;font-size:27.5px;color:#0d0d0d;letter-spacing:0.498px;-webkit-text-stroke:0.5px #0d0d0d;">653.29M</span>
<span class="t" style="left:715.74px;top:481.29px;font-size:28px;color:#8a8d93;transform:scaleX(0.9577);">24h低</span>
<span class="t" style="left:715.97px;top:515.92px;font-size:27.5px;color:#0d0d0d;transform:scaleX(0.9798);-webkit-text-stroke:0.5px #0d0d0d;">0.016478</span>
<span class="t" style="left:870.75px;top:481.29px;font-size:28px;color:#8a8d93;transform:scaleX(0.9461);">24h额 (USDT)</span>
<span class="t" style="left:871.58px;top:515.92px;font-size:27.5px;color:#0d0d0d;transform:scaleX(0.9852);-webkit-text-stroke:0.5px #0d0d0d;">11.25M</span>
</section>
<nav class="g" aria-label="chart intervals">
<span class="t" style="left:67.06px;top:590.21px;font-size:32px;color:#8a8d93;transform:scaleX(0.9707);">15分</span>
<span class="t" style="left:199.16px;top:590.21px;font-size:32px;color:#8a8d93;transform:scaleX(0.9189);">1时</span>
<span class="t" style="left:319.40px;top:590.21px;font-size:32px;color:#8a8d93;letter-spacing:0.803px;">4时</span>
<span class="t" style="left:445.12px;top:590.21px;font-size:32px;color:#0a6fdc;transform:scaleX(0.9393);">1日</span>
<span class="t" style="left:565.83px;top:590.21px;font-size:32px;color:#8a8d93;transform:scaleX(0.9867);">1周</span>
<span class="t" style="left:704.30px;top:590.91px;font-size:32px;color:#8a8d93;letter-spacing:0.700px;">更多</span>
</nav>
<section class="g" aria-label="kline chart labels">
<span class="t" style="left:9.57px;top:668.33px;font-size:25px;color:#f3bb30;transform:scaleX(0.9642);">MA5: 0.017802</span>
<span class="t" style="left:211.64px;top:668.33px;font-size:25px;color:#62cdb9;transform:scaleX(0.9315);">MA10: 0.018471</span>
<span class="t" style="left:420.11px;top:668.33px;font-size:25px;color:#c68af2;transform:scaleX(0.9437);">MA30: 0.018168</span>
<span class="t" style="left:969.60px;top:701.83px;font-size:25px;color:#8a8d93;transform:scaleX(0.9500);">0.022881</span>
<span class="t" style="left:965.70px;top:860.03px;font-size:25px;color:#8a8d93;letter-spacing:-0.181px;">0.020895</span>
<span class="t" style="left:969.60px;top:1018.03px;font-size:25px;color:#8a8d93;transform:scaleX(0.9519);">0.018909</span>
<span class="t" style="left:969.50px;top:1333.63px;font-size:25px;color:#8a8d93;transform:scaleX(0.9510);">0.014936</span>
<span class="t" style="left:963.70px;top:1166.63px;font-size:25px;color:#0d0d0d;transform:scaleX(0.9409);">0.017254</span>
<span class="t" style="left:510.75px;top:728.67px;font-size:28.5px;color:#0d0d0d;transform:scaleX(0.9537);">0.022729</span>
<span class="t" style="left:286.28px;top:1296.47px;font-size:28.5px;color:#0d0d0d;transform:scaleX(0.9212);">0.015596</span>
<span class="t" style="left:0.52px;top:1376.71px;font-size:25.5px;color:#8a8d93;transform:scaleX(0.9824);">04–28</span>
<span class="t" style="left:145.00px;top:1376.71px;font-size:25.5px;color:#8a8d93;letter-spacing:0.096px;">2025–05–07</span>
<span class="t" style="left:363.03px;top:1376.71px;font-size:25.5px;color:#8a8d93;transform:scaleX(0.9670);">2025–05–15</span>
<span class="t" style="left:577.50px;top:1376.71px;font-size:25.5px;color:#8a8d93;letter-spacing:-0.126px;">2025–05–24</span>
<span class="t" style="left:12.00px;top:1418.26px;font-size:24.5px;color:#3ba5e6;transform:scaleX(0.9704);">VOL: 2.96M</span>
<span class="t" style="left:178.00px;top:1418.26px;font-size:24.5px;color:#f3bb30;letter-spacing:0.007px;">MA5: 427.88M</span>
<span class="t" style="left:376.58px;top:1418.26px;font-size:24.5px;color:#62cdb9;transform:scaleX(0.9614);">MA10: 501.66M</span>
<span class="t" style="left:973.40px;top:1418.26px;font-size:24.5px;color:#8a8d93;letter-spacing:0.261px;">956.34M</span>
<span class="t" style="left:9.16px;top:1584.83px;font-size:25px;color:#8a8d93;transform:scaleX(0.9203);">KDJ(14,1,3)</span>
<span class="t" style="left:169.09px;top:1584.83px;font-size:25px;color:#f3bb30;transform:scaleX(0.9531);">K: 16.818378</span>
<span class="t" style="left:349.89px;top:1584.83px;font-size:25px;color:#62cdb9;transform:scaleX(0.9055);">D: 16.313401</span>
<span class="t" style="left:526.70px;top:1584.83px;font-size:25px;color:#c68af2;transform:scaleX(0.9557);">J: 17.828332</span>
<span class="t" style="left:89.01px;top:1297.75px;font-size:44px;color:#dadada;font-weight:700;transform:scaleX(0.9917);">火币</span>
</section>
<nav class="g" aria-label="indicator tabs">
<span class="t" style="left:39.53px;top:1775.66px;font-size:33px;color:#0a6fdc;transform:scaleX(0.9796);-webkit-text-stroke:1.0px #0a6fdc;">MA</span>
<span class="t" style="left:159.20px;top:1775.66px;font-size:33px;color:#8a8d93;transform:scaleX(0.8993);">EMA</span>
<span class="t" style="left:280.70px;top:1775.66px;font-size:33px;color:#8a8d93;transform:scaleX(0.9021);">BOLL</span>
<span class="t" style="left:470.45px;top:1775.66px;font-size:33px;color:#0a6fdc;transform:scaleX(0.8998);-webkit-text-stroke:1.0px #0a6fdc;">VOL</span>
<span class="t" style="left:583.17px;top:1775.66px;font-size:33px;color:#8a8d93;transform:scaleX(0.9170);">MACD</span>
<span class="t" style="left:727.05px;top:1775.66px;font-size:33px;color:#0a6fdc;transform:scaleX(0.9692);-webkit-text-stroke:1.0px #0a6fdc;">KDJ</span>
<span class="t" style="left:861.71px;top:1775.66px;font-size:33px;color:#8a8d93;transform:scaleX(0.8949);">RSI</span>
<span class="t" style="left:992.50px;top:1775.66px;font-size:33px;color:#8a8d93;transform:scaleX(0.8495);">WR</span>
</nav>
<section class="g" aria-label="period changes">
<span class="t" style="left:45.01px;top:1863.59px;font-size:28px;color:#8a8d93;transform:scaleX(0.9887);">24时</span>
<span class="t" style="left:45.08px;top:1897.72px;font-size:27.5px;color:#0a9d6f;transform:scaleX(0.9181);">+0.15%</span>
<span class="t" style="left:211.56px;top:1863.59px;font-size:28px;color:#8a8d93;transform:scaleX(0.9396);">7天</span>
<span class="t" style="left:211.57px;top:1897.72px;font-size:27.5px;color:#d9405a;transform:scaleX(0.9343);">−9.94%</span>
<span class="t" style="left:378.16px;top:1863.59px;font-size:28px;color:#8a8d93;transform:scaleX(0.9187);">14天</span>
<span class="t" style="left:379.07px;top:1897.72px;font-size:27.5px;color:#d9405a;transform:scaleX(0.9270);">−14.49%</span>
<span class="t" style="left:545.01px;top:1863.59px;font-size:28px;color:#8a8d93;transform:scaleX(0.9889);">30天</span>
<span class="t" style="left:545.09px;top:1897.72px;font-size:27.5px;color:#d9405a;transform:scaleX(0.9073);">−1.32%</span>
<span class="t" style="left:711.51px;top:1863.59px;font-size:28px;color:#8a8d93;transform:scaleX(0.9889);">60天</span>
<span class="t" style="left:711.60px;top:1897.72px;font-size:27.5px;color:#0a9d6f;transform:scaleX(0.8985);">88.18%</span>
<span class="t" style="left:878.15px;top:1863.59px;font-size:28px;color:#8a8d93;transform:scaleX(0.9243);">1年</span>
<span class="t" style="left:879.10px;top:1897.72px;font-size:27.5px;color:#0a9d6f;transform:scaleX(0.9009);">762.17%</span>
</section>
<section class="g" aria-label="order book">
<span class="t" style="left:45.00px;top:2017.90px;font-size:38.5px;color:#1a1a1a;font-weight:500;letter-spacing:0.167px;">委托订单</span>
<span class="t" style="left:244.00px;top:2017.90px;font-size:38.5px;color:#7a7d82;letter-spacing:1.500px;">深度图</span>
<span class="t" style="left:405.00px;top:2016.90px;font-size:38.5px;color:#7a7d82;letter-spacing:1.500px;">成交</span>
<span class="t" style="left:527.00px;top:2016.90px;font-size:38.5px;color:#7a7d82;letter-spacing:0.833px;">数据分析</span>
<span class="t" style="left:45.00px;top:2136.72px;font-size:27.5px;color:#a9abb0;letter-spacing:0.500px;">买盘</span>
<span class="t" style="left:120.02px;top:2136.72px;font-size:27.5px;color:#a9abb0;transform:scaleX(0.9760);">数量（XCN）</span>
<span class="t" style="left:449.02px;top:2136.72px;font-size:27.5px;color:#a9abb0;transform:scaleX(0.9797);">价格（USDT）</span>
<span class="t" style="left:796.02px;top:2136.72px;font-size:27.5px;color:#a9abb0;transform:scaleX(0.9828);">数量（XCN）</span>
<span class="t" style="left:979.00px;top:2136.72px;font-size:27.5px;color:#a9abb0;letter-spacing:0.500px;">卖盘</span>
</section>
<footer class="g" aria-label="trade actions">
<span class="t" style="left:383.30px;top:2242.10px;font-size:38.5px;color:#fff;font-weight:500;letter-spacing:1.900px;-webkit-text-stroke:0.6px #fff;">交易</span>
<span class="t" style="left:845.50px;top:2276.56px;font-size:26.5px;color:#111;letter-spacing:1.400px;">网格</span>
<span class="t" style="left:957.80px;top:2276.56px;font-size:26.5px;color:#111;letter-spacing:0.700px;">赚币</span>
</footer>
</body></html>
